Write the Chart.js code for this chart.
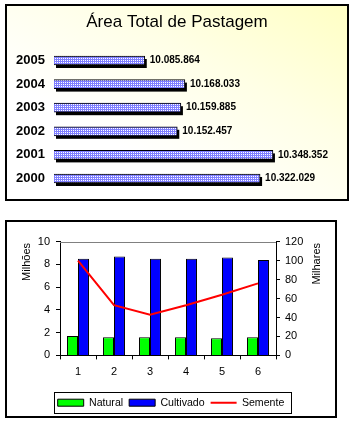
<!DOCTYPE html>
<html><head><meta charset="utf-8">
<script src="https://cdn.jsdelivr.net/npm/chart.js@4"></script>
<style>
html,body{margin:0;padding:0;background:#fff;width:354px;height:423px;overflow:hidden}
#box1{position:absolute;left:5px;top:4px;width:344px;height:197px;border:2px solid #000;box-sizing:border-box;background:linear-gradient(to bottom left,#FFFFC4 0%,#FFFFE6 35%,#FFFFFF 70%)}
#box2{position:absolute;left:5px;top:220px;width:332px;height:198px;border:2px solid #000;box-sizing:border-box;background:#fff}
canvas{display:block}
</style></head>
<body>
<div id="box1"><canvas id="c1" width="340" height="193"></canvas></div>
<div id="box2"><canvas id="c2" width="328" height="196"></canvas></div>
<script>
// ---- data: top chart
const years = ['2000','2001','2002','2003','2004','2005'];
const areaTotal = [10322029,10348352,10152457,10159885,10168033,10085864];
// ---- data: bottom chart
const cats = ['1','2','3','4','5','6'];
const natural = [1.7,1.6,1.6,1.6,1.5,1.6];
const cultivado = [8.5,8.7,8.5,8.5,8.6,8.4];
const semente = [100,53,43,53,64,76];

Chart.defaults.font.family = '"Liberation Sans", Arial, sans-serif';
Chart.defaults.color = '#000';

function fmt(v){ return String(v).replace(/\B(?=(\d{3})+(?!\d))/g,'.'); }

// dotted lavender pattern
const pc = document.createElement('canvas'); pc.width = 2; pc.height = 2;
const pctx = pc.getContext('2d');
pctx.fillStyle = '#8080FF'; pctx.fillRect(0,0,2,2);
pctx.fillStyle = '#FFFFFF'; pctx.fillRect(0,0,1,1);
const pattern = document.getElementById('c1').getContext('2d').createPattern(pc,'repeat');

const shadowPlugin = {
  id:'shadowBars',
  beforeDatasetsDraw(chart){
    const ctx = chart.ctx; ctx.save(); ctx.fillStyle = '#000';
    const a = chart.chartArea;
    chart.getDatasetMeta(0).data.forEach(el=>{
      const p = el.getProps(['x','y','base','height'], true);
      const left = Math.max(p.base, a.left);
      ctx.fillRect(left+2, p.y - p.height/2 + 3, p.x - left, p.height);
    });
    ctx.restore();
  },
  afterDatasetsDraw(chart){
    const ctx = chart.ctx; ctx.save();
    ctx.font = 'bold 10px "Liberation Sans", Arial, sans-serif';
    ctx.fillStyle = '#000'; ctx.textAlign = 'left'; ctx.textBaseline = 'middle';
    const ds = chart.data.datasets[0];
    chart.getDatasetMeta(0).data.forEach((el,i)=>{
      const p = el.getProps(['x','y'], true);
      ctx.fillText(fmt(ds.data[i]), p.x + 5, p.y);
    });
    ctx.restore();
  }
};

new Chart(document.getElementById('c1'), {
  type:'bar',
  data:{ labels: years, datasets:[{ data: areaTotal, backgroundColor: pattern, borderColor:'#000', borderWidth:1, barThickness:9 }]},
  options:{
    responsive:false, animation:false, indexAxis:'y',
    layout:{ padding:{ left:0, right:0, top:0, bottom:8.7 } },
    plugins:{
      legend:{display:false}, tooltip:{enabled:false},
      title:{ display:true, text:'Área Total de Pastagem', color:'#000', font:{size:17, weight:'normal'}, padding:{top:5.8, bottom:16.5} }
    },
    scales:{
      x:{ display:false, min:9900000, max:10500000 },
      y:{ reverse:true, grid:{display:false, drawTicks:false}, border:{display:false},
          ticks:{ color:'#000', font:{size:13, weight:'bold'}, padding:9 },
          afterFit(s){ s.width = 47; s.paddingTop = 0; s.paddingBottom = 0; } }
    }
  },
  plugins:[shadowPlugin]
});

const extrasPlugin = {
  id:'extras',
  beforeDatasetsDraw(chart){
    const a = chart.chartArea, ctx = chart.ctx;
    ctx.save(); ctx.strokeStyle = '#808080'; ctx.lineWidth = 1;
    ctx.beginPath(); ctx.moveTo(a.left, Math.round(a.top)+0.5); ctx.lineTo(a.right, Math.round(a.top)+0.5); ctx.stroke();
    ctx.restore();
  },
  afterDraw(chart){
    const ctx = chart.ctx;
    ctx.save();
    ctx.font = '11px "Liberation Sans", Arial, sans-serif'; ctx.fillStyle = '#000';
    ctx.textAlign = 'right'; ctx.textBaseline = 'middle';
    ctx.translate(20, 21); ctx.rotate(-Math.PI/2); ctx.fillText('Milhões', 0, 0);
    ctx.setTransform(1,0,0,1,0,0);
    ctx.translate(310, 21); ctx.rotate(-Math.PI/2); ctx.fillText('Milhares', 0, 0);
    ctx.setTransform(1,0,0,1,0,0);
    // legend frame
    const lg = chart.legend;
    if (lg && lg.legendHitBoxes && lg.legendHitBoxes.length){
      const hb = lg.legendHitBoxes;
      let l = Infinity, r = -Infinity, cy = 0;
      hb.forEach(h=>{ l = Math.min(l, h.left); r = Math.max(r, h.left + h.width); cy = h.top + h.height/2; });
      ctx.strokeStyle = '#000'; ctx.lineWidth = 1;
      ctx.strokeRect(Math.round(l - 4)+0.5, Math.round(cy - 10.5)+0.5, Math.round(r - l + 10), 21);
    }
    ctx.restore();
  }
};

new Chart(document.getElementById('c2'), {
  data:{ labels: cats, datasets:[
    { type:'bar', label:'Natural', data: natural, backgroundColor:'#00FF00', borderColor:'#000', borderWidth:1, yAxisID:'y', order:2, categoryPercentage:0.61, barPercentage:1 },
    { type:'bar', label:'Cultivado', data: cultivado, backgroundColor:'#0000FF', borderColor:'#000', borderWidth:1, yAxisID:'y', order:2, categoryPercentage:0.61, barPercentage:1 },
    { type:'line', label:'Semente', data: semente, borderColor:'#FF0000', backgroundColor:'#FF0000', borderWidth:2, pointRadius:0, tension:0, yAxisID:'y1', order:0 }
  ]},
  options:{
    responsive:false, animation:false,
    layout:{ padding:{ left:0, right:0, top:19.7, bottom:0 } },
    plugins:{
      tooltip:{enabled:false},
      legend:{ position:'bottom',
        labels:{ color:'#000', font:{size:10.6}, usePointStyle:true, pointStyleWidth:26, boxHeight:7, padding:6,
          sort:(a,b)=>a.datasetIndex-b.datasetIndex,
          generateLabels(chart){
            const items = Chart.defaults.plugins.legend.labels.generateLabels(chart);
            items.forEach(it=>{
              const ds = chart.data.datasets[it.datasetIndex];
              if (ds.type === 'line'){ it.pointStyle = 'line'; it.strokeStyle = '#FF0000'; it.lineWidth = 2; }
              else { it.pointStyle = 'rect'; it.fillStyle = ds.backgroundColor; it.strokeStyle = '#000'; it.lineWidth = 1; }
            });
            return items;
          } } }
    },
    scales:{
      x:{ offset:true, grid:{ display:true, offset:true, drawOnChartArea:false, tickLength:4, color:'#000' }, border:{color:'#000'},
          ticks:{ color:'#000', font:{size:11}, padding:6 }, afterFit(s){ s.height = 36; } },
      y:{ position:'left', min:0, max:10, ticks:{ stepSize:2, color:'#000', font:{size:11}, padding:6 },
          grid:{ drawOnChartArea:false, tickLength:4, color:'#000' }, border:{color:'#000'}, afterFit(s){ s.width = 53; } },
      y1:{ position:'right', min:0, max:120, ticks:{ stepSize:20, color:'#000', font:{size:11}, padding:5 },
          grid:{ drawOnChartArea:false, tickLength:4, color:'#000' }, border:{color:'#000'}, afterFit(s){ s.width = 59; } }
    }
  },
  plugins:[extrasPlugin]
});
</script>
</body></html>
